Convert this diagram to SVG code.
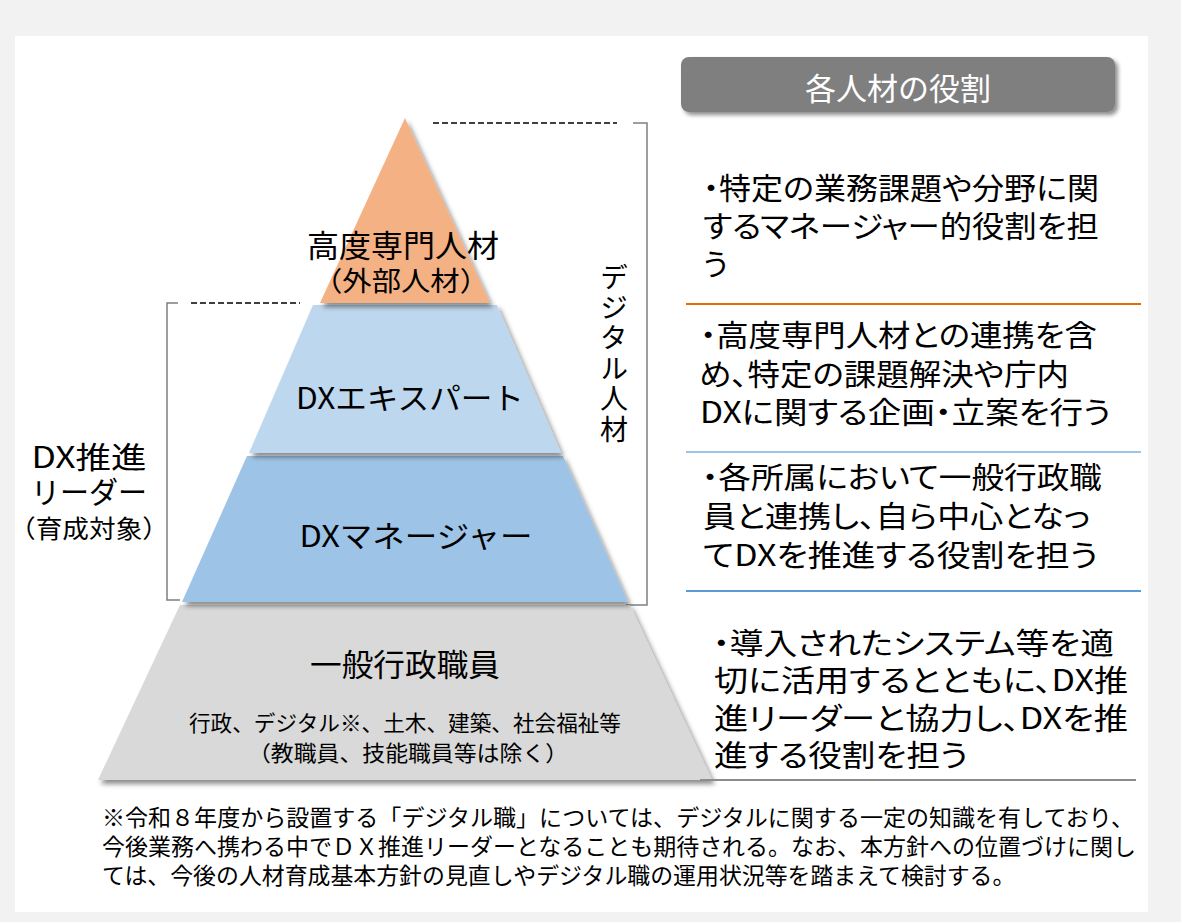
<svg xmlns="http://www.w3.org/2000/svg" width="1181" height="922" viewBox="0 0 1181 922">
<style>
text{font-family:"Noto Sans CJK JP","Noto Sans",sans-serif;fill:#000}
.r{font-size:30px;font-feature-settings:"palt"}
.fn{font-size:22.9px}
.lbl{font-size:30px;text-anchor:middle}
.sub{font-size:21.5px;text-anchor:middle}
.br{fill:none;stroke:#7f7f7f;stroke-width:1.5}
.dash{fill:none;stroke:#000;stroke-width:1.3;stroke-dasharray:6 3}
.sep{stroke-width:2}
</style>
<defs>
<filter id="sh" x="-10%" y="-10%" width="125%" height="130%">
<feDropShadow dx="3" dy="4" stdDeviation="2.5" flood-color="#000" flood-opacity="0.45"/>
</filter>
<filter id="sh2" x="-10%" y="-20%" width="125%" height="150%">
<feDropShadow dx="3" dy="3" stdDeviation="2" flood-color="#000" flood-opacity="0.45"/>
</filter>
</defs>
<rect x="0" y="0" width="1181" height="922" fill="#f2f2f2"/>
<rect x="15" y="36" width="1133" height="876" fill="#ffffff"/>

<g id="header">
<rect x="681" y="57" width="434" height="55" rx="8" fill="#7f7f7f" filter="url(#sh2)"/>
<text x="898" y="100" style="font-size:31px;fill:#ffffff" text-anchor="middle">各人材の役割</text>
</g>

<g id="connectors">
<line class="dash" x1="433" y1="123" x2="617" y2="123"/>
<polyline class="br" points="633,123 647,123 647,605 626,605"/>
<line class="dash" x1="191" y1="303" x2="300" y2="303"/>
<polyline class="br" points="178,303 167,303 167,600 180,600"/>
</g>

<g id="layer-general">
<polygon points="180,605 630,605 712,780 98,780" fill="#d9d9d9" filter="url(#sh)"/>
<text class="lbl" x="405" y="676" style="font-size:31px" textLength="190" lengthAdjust="spacingAndGlyphs">一般行政職員</text>
<text class="sub" x="405" y="731" textLength="432" lengthAdjust="spacingAndGlyphs">行政、デジタル※、土木、建築、社会福祉等</text>
<text class="sub" x="408" y="761" textLength="320" lengthAdjust="spacingAndGlyphs">（教職員、技能職員等は除く）</text>
</g>

<g id="layer-manager">
<polygon points="247,456 563,456 628,602 182,602" fill="#9dc3e6" filter="url(#sh)"/>
<text class="lbl" x="416" y="547" textLength="233" lengthAdjust="spacingAndGlyphs">DXマネージャー</text>
</g>

<g id="layer-expert">
<polygon points="313,305 497,305 561,453 249,453" fill="#bdd7ee" filter="url(#sh)"/>
<text class="lbl" x="410" y="409" textLength="228" lengthAdjust="spacingAndGlyphs">DXエキスパート</text>
</g>

<g id="layer-specialist">
<polygon points="405,118 490,303 320,303" fill="#f4b183" filter="url(#sh)"/>
<text class="lbl" x="403" y="257" style="font-size:31px" textLength="192" lengthAdjust="spacingAndGlyphs">高度専門人材</text>
<text class="lbl" x="401" y="291" style="font-size:27px" textLength="176" lengthAdjust="spacingAndGlyphs">（外部人材）</text>
</g>

<g id="label-digital">
<text x="614" y="263" style="font-size:28px;writing-mode:vertical-rl;letter-spacing:2.4px">デジタル人材</text>
</g>

<g id="label-leader">
<text class="lbl" x="89" y="468" textLength="115" lengthAdjust="spacingAndGlyphs">DX推進</text>
<text class="lbl" x="89" y="503" textLength="116" lengthAdjust="spacingAndGlyphs">リーダー</text>
<text class="lbl" x="89" y="538" style="font-size:25px" textLength="160" lengthAdjust="spacingAndGlyphs">（育成対象）</text>
</g>

<g id="role-specialist">
<text class="r" x="703" y="199" textLength="396" lengthAdjust="spacingAndGlyphs">・特定の業務課題や分野に関</text>
<text class="r" x="703" y="237" textLength="396" lengthAdjust="spacingAndGlyphs">するマネージャー的役割を担</text>
<text class="r" x="703" y="275">う</text>
</g>
<line class="sep" x1="686" y1="304" x2="1141" y2="304" stroke="#e46c0a"/>

<g id="role-expert">
<text class="r" x="700" y="346" textLength="397" lengthAdjust="spacingAndGlyphs">・高度専門人材との連携を含</text>
<text class="r" x="699" y="385" textLength="370" lengthAdjust="spacingAndGlyphs">め、特定の課題解決や庁内</text>
<text class="r" x="700" y="423" textLength="411" lengthAdjust="spacingAndGlyphs">DXに関する企画・立案を行う</text>
</g>
<line class="sep" x1="686" y1="452" x2="1141" y2="452" stroke="#9dc3e6"/>

<g id="role-manager">
<text class="r" x="702" y="488" textLength="400" lengthAdjust="spacingAndGlyphs">・各所属において一般行政職</text>
<text class="r" x="703" y="527" textLength="387" lengthAdjust="spacingAndGlyphs">員と連携し、自ら中心となっ</text>
<text class="r" x="703" y="566" textLength="395" lengthAdjust="spacingAndGlyphs">てDXを推進する役割を担う</text>
</g>
<line class="sep" x1="686" y1="591" x2="1141" y2="591" stroke="#5b9bd5"/>

<g id="role-general">
<text class="r" x="713" y="654" textLength="401" lengthAdjust="spacingAndGlyphs">・導入されたシステム等を適</text>
<text class="r" x="714" y="691" textLength="414" lengthAdjust="spacingAndGlyphs">切に活用するとともに、DX推</text>
<text class="r" x="714" y="729" textLength="414" lengthAdjust="spacingAndGlyphs">進リーダーと協力し、DXを推</text>
<text class="r" x="714" y="766" textLength="254" lengthAdjust="spacingAndGlyphs">進する役割を担う</text>
</g>
<line class="sep" x1="700" y1="780" x2="1136" y2="780" stroke="#8c8c8c"/>

<g id="footnote">
<text class="fn" x="102" y="826" textLength="1032" lengthAdjust="spacingAndGlyphs">※令和８年度から設置する「デジタル職」については、デジタルに関する一定の知識を有しており、</text>
<text class="fn" x="102" y="855" textLength="1034" lengthAdjust="spacingAndGlyphs">今後業務へ携わる中でＤＸ推進リーダーとなることも期待される。なお、本方針への位置づけに関し</text>
<text class="fn" x="102" y="884">ては、今後の人材育成基本方針の見直しやデジタル職の運用状況等を踏まえて検討する。</text>
</g>
</svg>
